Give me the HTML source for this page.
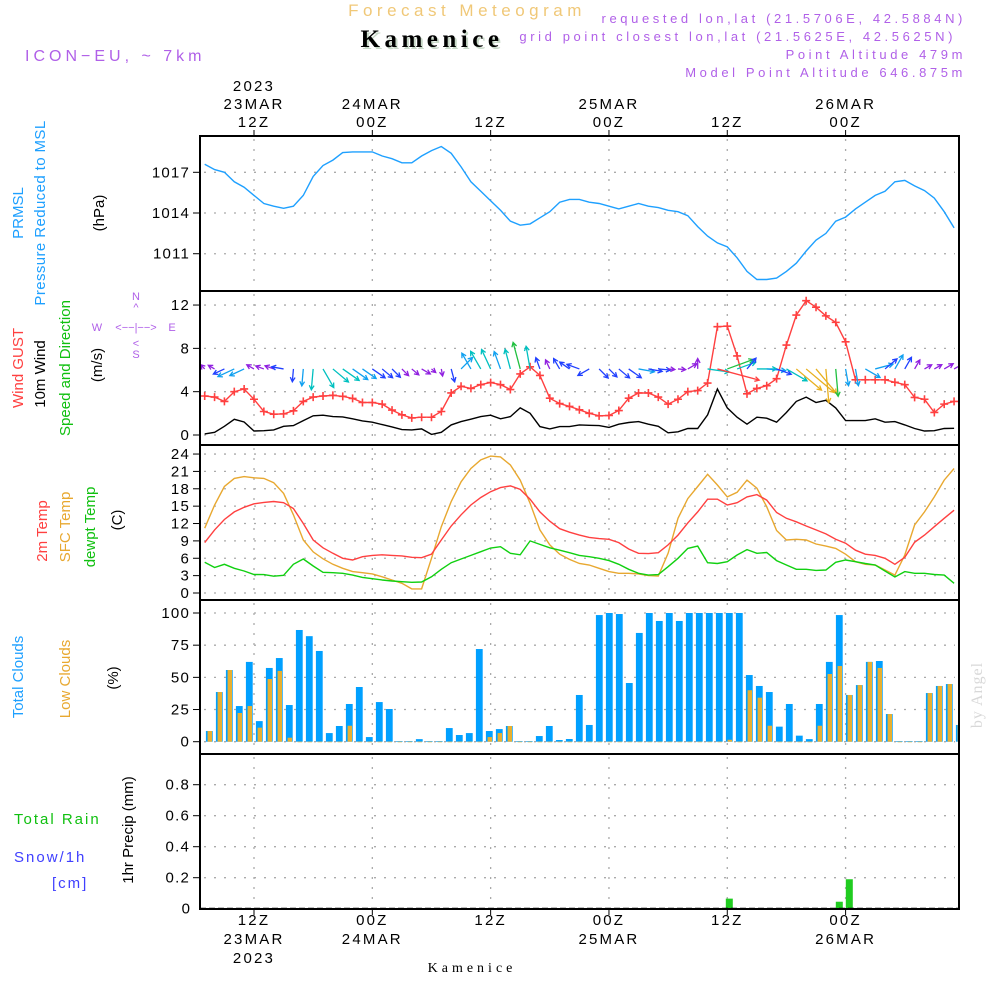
<!DOCTYPE html>
<html><head><meta charset="utf-8">
<style>
html,body{margin:0;padding:0;background:#fff;}
svg{display:block;font-family:"Liberation Sans",sans-serif;}
</style></head>
<body>
<svg id="chart" width="1000" height="1000" viewBox="0 0 1000 1000" xmlns="http://www.w3.org/2000/svg">
<rect width="1000" height="1000" fill="#fff"/>
<text x="467" y="16" text-anchor="middle" font-size="17" letter-spacing="4.5" fill="#f0c878">Forecast Meteogram</text>
<text x="434" y="49" text-anchor="middle" font-size="25" font-weight="bold" font-family="Liberation Serif,serif" letter-spacing="4.5" fill="#c8d8c8">Kamenice</text>
<text x="432" y="47" text-anchor="middle" font-size="25" font-weight="bold" font-family="Liberation Serif,serif" letter-spacing="4.5" fill="#000">Kamenice</text>
<text x="25" y="61" font-size="16" letter-spacing="4" fill="#b060e8">ICON−EU, ~ 7km</text>
<g font-size="13" letter-spacing="3.6" fill="#b060e8" text-anchor="end">
<text x="966" y="23">requested lon,lat (21.5706E, 42.5884N)</text>
<text x="956" y="41">grid point closest lon,lat (21.5625E, 42.5625N)</text>
<text x="966" y="59">Point Altitude 479m</text>
<text x="966" y="77">Model Point Altitude 646.875m</text>
</g>
<text transform="translate(982,695) rotate(-90)" text-anchor="middle" font-size="16" font-family="Liberation Serif,serif" letter-spacing="1" fill="#d8d8d8">by Angel</text>

<g font-size="15">
<text transform="translate(23,213) rotate(-90)" text-anchor="middle" fill="#1ea0ff">PRMSL</text>
<text transform="translate(45,213) rotate(-90)" text-anchor="middle" fill="#1ea0ff" letter-spacing="0.4">Pressure Reduced to MSL</text>
<text transform="translate(104,213) rotate(-90)" text-anchor="middle" fill="#000">(hPa)</text>
<text transform="translate(23,368) rotate(-90)" text-anchor="middle" fill="#ff4040">Wind GUST</text>
<text transform="translate(45,374) rotate(-90)" text-anchor="middle" fill="#000">10m Wind</text>
<text transform="translate(70,368) rotate(-90)" text-anchor="middle" fill="#10c010">Speed and Direction</text>
<text transform="translate(102,365) rotate(-90)" text-anchor="middle" fill="#000">(m/s)</text>
<text transform="translate(47,531) rotate(-90)" text-anchor="middle" fill="#ff4040">2m Temp</text>
<text transform="translate(70,527) rotate(-90)" text-anchor="middle" fill="#e8a830">SFC Temp</text>
<text transform="translate(95,527) rotate(-90)" text-anchor="middle" fill="#10c010">dewpt Temp</text>
<text transform="translate(122,520) rotate(-90)" text-anchor="middle" fill="#000">(C)</text>
<text transform="translate(23,677) rotate(-90)" text-anchor="middle" fill="#1ea0ff">Total Clouds</text>
<text transform="translate(70,679) rotate(-90)" text-anchor="middle" fill="#e8a830">Low Clouds</text>
<text transform="translate(118,678) rotate(-90)" text-anchor="middle" fill="#000">(%)</text>
<text transform="translate(133,830) rotate(-90)" text-anchor="middle" fill="#000">1hr Precip (mm)</text>
<text x="14" y="824" fill="#10c010" letter-spacing="2">Total  Rain</text>
<text x="14" y="862" fill="#4040ff" letter-spacing="2">Snow/1h</text>
<text x="52" y="888" fill="#4040ff" letter-spacing="2">[cm]</text>
</g>
<g font-size="11" fill="#b060e8" text-anchor="middle">
<text x="136" y="300">N</text><text x="136" y="311">^</text>
<text x="97" y="331">W</text><text x="136" y="331">&lt;−−|−−&gt;</text><text x="172" y="331">E</text>
<text x="136" y="347">&lt;</text><text x="136" y="358">S</text>
</g>
<g id="plot"></g>
</svg>
<script>
// ---------- data (hourly from 23MAR 07Z) ----------
const startHour = 7;
const timeTicks = [12, 24, 36, 48, 60, 72];
const topTickLabels = [["2023","23MAR","12Z"],["24MAR","00Z"],["12Z"],["25MAR","00Z"],["12Z"],["26MAR","00Z"]];
const bottomTickLabels = [["12Z","23MAR","2023"],["00Z","24MAR"],["12Z"],["00Z","25MAR"],["12Z"],["00Z","26MAR"]];
const pressure = [1017.6,1017.2,1017.0,1016.3,1015.9,1015.3,1014.7,1014.5,1014.35,1014.5,1015.3,1016.7,1017.5,1017.9,1018.45,1018.5,1018.5,1018.5,1018.2,1018.0,1017.7,1017.7,1018.2,1018.6,1018.9,1018.4,1017.4,1016.3,1015.6,1014.9,1014.2,1013.4,1013.1,1013.2,1013.65,1014.1,1014.8,1015.0,1015.0,1014.8,
1014.7,1014.5,1014.3,1014.5,1014.7,1014.5,1014.4,1014.2,1014.1,1013.8,1013.0,1012.3,1011.8,1011.5,1010.7,1009.7,1009.1,1009.1,1009.2,1009.7,1010.3,1011.2,1012.0,1012.5,1013.4,1013.7,1014.3,1014.8,1015.3,1015.6,1016.3,1016.4,1016.0,1015.65,1015.1,1014.1,1012.9];
const pressureTicks = [1011, 1014, 1017];
const wind10 = [0.1,0.25,0.8,1.45,1.2,0.37,0.4,0.47,0.8,0.87,1.33,1.77,1.83,1.7,1.67,1.5,1.3,1.18,0.96,0.75,0.5,0.47,0.56,0.06,0.25,0.93,1.24,1.46,1.7,1.83,1.5,1.7,2.5,2.0,0.78,0.56,0.78,0.78,0.93,0.9,
0.87,0.7,1.0,1.15,1.24,1.0,0.8,0.2,0.3,0.6,0.6,1.86,4.25,2.5,1.64,1.0,1.64,1.55,1.18,2.08,3.1,3.5,3.0,3.2,2.5,1.33,1.33,1.33,1.5,1.18,1.24,0.93,0.6,0.37,0.4,0.6,0.62];
const gust = [3.6,3.5,3.1,4.0,4.25,3.3,2.17,1.92,1.95,2.23,3.1,3.5,3.6,3.66,3.57,3.38,3.0,3.0,2.85,2.3,1.86,1.58,1.64,1.64,2.17,3.88,4.5,4.3,4.65,4.84,4.65,4.2,5.64,6.3,5.5,3.4,2.9,2.64,2.33,2.0,
1.77,1.8,2.26,3.4,3.88,3.88,3.5,2.85,3.3,4.0,4.1,4.8,10.0,10.05,7.3,3.8,4.3,4.55,5.2,8.3,11.07,12.4,11.8,11.0,10.4,8.6,5.1,5.1,5.1,5.1,4.87,4.65,3.47,3.3,2.08,2.85,3.1];
const windDir = [-135,-150,155,155,155,-150,-160,-160,-170,95,95,95,60,40,35,35,35,35,40,45,45,40,30,40,80,75,-45,-120,-120,-115,-110,-105,-105,-100,-110,-115,-120,-145,-160,150,
45,45,40,35,10,10,5,5,5,-30,-90,8,15,-20,-20,-50,0,5,20,30,40,40,50,85,85,80,80,30,-15,-40,-60,-60,-60,-30,-30,-30,-30];
const windTicks = [0, 4, 8, 12];
const temp2m = [8.7,10.9,12.7,14.0,14.8,15.4,15.65,15.8,15.6,14.6,12.0,9.15,7.8,6.85,6.0,5.7,6.27,6.5,6.6,6.5,6.4,6.16,6.1,6.7,9.15,11.57,13.5,15.2,16.5,17.5,18.2,18.5,17.9,16.2,14.0,12.4,11.1,10.5,10.0,9.6,
9.4,9.27,8.7,7.6,6.85,6.8,6.96,8.3,10.0,12.1,14.0,16.2,16.2,15.2,15.6,16.6,17.0,16.05,13.9,12.9,12.3,11.57,10.9,10.2,9.27,8.6,7.4,6.7,6.5,6.0,4.95,6.16,8.75,10.0,11.45,12.9,14.3];
const tempSfc = [11.2,15.2,18.4,19.8,20.1,19.9,19.8,19.05,17.2,13.5,9.15,7.1,5.9,4.95,4.26,3.7,3.5,3.3,2.8,2.25,1.67,0.7,0.7,6.0,11.45,15.8,19.2,21.5,23.0,23.65,23.5,22.1,19.5,15.5,10.9,8.3,6.7,5.8,5.1,4.83,
4.26,3.7,3.4,3.4,3.3,3.0,2.94,6.85,12.9,16.3,18.4,20.5,18.65,16.6,17.4,19.5,18.1,14.9,10.8,9.15,9.27,9.15,8.46,8.1,7.7,6.7,5.4,4.95,4.83,3.97,3.1,6.56,11.74,14.0,16.6,19.5,21.5];
const dewpt = [5.3,4.4,4.95,4.26,3.8,3.2,3.17,2.9,3.05,4.95,5.87,4.66,3.57,3.5,3.4,3.1,2.7,2.47,2.25,2.07,1.96,1.84,1.9,2.8,4.1,5.24,5.87,6.5,7.14,7.77,8.0,6.85,6.6,9.0,8.4,7.8,7.4,6.96,6.5,6.27,
6.0,5.6,4.95,4.1,3.4,3.1,3.17,4.55,6.0,7.7,8.1,5.24,5.1,5.4,6.56,7.5,6.85,7.0,5.6,4.83,4.1,4.1,3.9,3.97,5.3,5.7,5.4,5.1,4.83,3.8,2.76,3.7,3.4,3.4,3.2,3.1,1.67];
const tempTicks = [0,3,6,9,12,15,18,21,24];
const totalClouds = [8.3,38.6,55.7,27.7,62,16,57.3,65,28.5,86.8,82,70.5,6.7,12.2,29.3,42.5,3.6,30.8,25.4,0.5,0.5,2,0.5,0.5,10.6,5.2,6.7,72,8.3,9.8,12.2,0.5,0.5,4.4,12.2,1.3,2.1,36.3,13,
98.4,100,99.2,45.6,84.5,100,93.8,100,93.8,100,100,100,100,100,100,51.8,43.3,38.6,11.7,29.3,4.7,2,29.3,62,98.4,36.3,44,62,62.7,21.5,0.5,0.5,0.5,37.8,43.3,44.8,13];
const lowClouds = [8.3,38.6,55.7,22.3,27.7,10.9,48.7,55,3.1,0,0,0,0,0,12.4,0,0,0,0,0,0,0,0,0,0,0,0,0,3.6,6.7,12.2,0,0,0,0,0,0,0,0,
0,0,0,0,0,0,0,0,0,0,0,0,0,1.5,0,40,34.2,12.4,0,0,0,0,12.4,52.6,58.8,36.3,44,62,57.3,21.5,0,0,0,37.8,43.3,44.8,13];
const cloudTicks = [0,25,50,75,100];
const precipIndex = [52, 63, 64];
const precipValues = [0.065, 0.045, 0.19];
const precipTicks = [0, 0.2, 0.4, 0.6, 0.8];

// ---------- scales ----------
const X0 = 200, X1 = 959;
function xT(t){ return 254 + 9.86*(t-12); }
function xBar(i){ return 209.3 + 10*i; }
const panels = [
  {name:'pressure', top:136, bot:291, y:v=>172.3+(1017-v)*13.57},
  {name:'wind', top:291, bot:445, y:v=>435-v*10.83},
  {name:'temperature', top:445, bot:600, y:v=>593-v*5.79},
  {name:'clouds', top:600, bot:754, y:v=>741.7-v*1.287},
  {name:'precip', top:754, bot:909, y:v=>908.7-v*155}
];
const NS = 'http://www.w3.org/2000/svg';
const plot = document.getElementById('plot');
function mk(tag, attrs, parent){
  const e = document.createElementNS(NS, tag);
  for (const k in attrs) e.setAttribute(k, attrs[k]);
  (parent||plot).appendChild(e);
  return e;
}
const defs = mk('defs', {});
panels.forEach((p,i)=>{
  const cp = mk('clipPath', {id:'clip'+i}, defs);
  mk('rect', {x:X0, y:p.top, width:X1-X0, height:p.bot-p.top}, cp);
});

function gridAndTicks(p, ticks, fmt, name){
  const g = mk('g', {});
  
  
  ticks.forEach(v=>{
    const y = p.y(v);
    mk('line', {x1:X0+4, x2:X1-4, y1:y, y2:y, stroke:'#aaa', 'stroke-width':1.3, 'stroke-dasharray':'2 8'}, g);
    mk('line', {x1:X0-7, x2:X0, y1:y, y2:y, stroke:'#000', 'stroke-width':1}, g);
    const t = mk('text', {x:X0-10, y:y+5, 'text-anchor':'end', 'font-size':15, 'letter-spacing':1.2, fill:'#000'}, g);
    t.textContent = fmt(v);
  });
  timeTicks.forEach(tt=>{
    const x = xT(tt);
    mk('line', {x1:x, x2:x, y1:p.top+3, y2:p.bot-2, stroke:'#aaa', 'stroke-width':1.3, 'stroke-dasharray':'2 8'}, g);
  });
}
gridAndTicks(panels[0], pressureTicks, v=>String(v), 'pressure');
gridAndTicks(panels[1], windTicks, v=>String(v), 'wind');
gridAndTicks(panels[2], tempTicks, v=>String(v), 'temperature');
gridAndTicks(panels[3], cloudTicks, v=>String(v), 'clouds');
gridAndTicks(panels[4], precipTicks.slice(1), v=>v.toFixed(1), 'precip');
{ const t = mk('text', {x:X0-10, y:panels[4].y(0)+5, 'text-anchor':'end', 'font-size':15, fill:'#000'}); t.textContent='0'; }

function line(arr, p, idx, color, name){
  const pts = arr.map((v,i)=>xT(startHour+i).toFixed(1)+','+p.y(v).toFixed(1)).join(' ');
  const e = mk('polyline', {points:pts, fill:'none', stroke:color, 'stroke-width':1.4, 'clip-path':'url(#clip'+idx+')'});
  
  
  return e;
}
line(pressure, panels[0], 0, '#1ea0ff', 'pressure-line');
line(wind10, panels[1], 1, '#000', 'wind-10m-line');
line(gust, panels[1], 1, '#ff4040', 'wind-gust-line');
gust.forEach((v,i)=>{
  const x = xT(startHour+i), y = panels[1].y(v);
  const m = mk('path', {d:`M${x-4},${y}H${x+4}M${x},${y-4}V${y+4}`, stroke:'#ff4040', 'stroke-width':1.6});
  
  
});
function arrowColor(s){
  if (s < 0.7) return '#9020e0';
  if (s < 1.2) return '#2040ff';
  if (s < 1.6) return '#10a0f0';
  if (s < 2.2) return '#00c0c0';
  if (s < 2.8) return '#20c040';
  if (s < 3.8) return '#e8b020';
  return '#ff4040';
}
windDir.forEach((d,i)=>{
  const s = wind10[i];
  const x0 = xT(startHour+i), y0 = panels[1].y(6.1);
  const L = 5 + s*9;
  const a = d*Math.PI/180;
  const x1 = x0 + L*Math.cos(a), y1 = y0 + L*Math.sin(a);
  const h1 = a + Math.PI - 0.5, h2 = a + Math.PI + 0.5;
  const e = mk('path', {d:`M${x0},${y0}L${x1},${y1}M${x1+5*Math.cos(h1)},${y1+5*Math.sin(h1)}L${x1},${y1}L${x1+5*Math.cos(h2)},${y1+5*Math.sin(h2)}`,
    stroke:arrowColor(s), 'stroke-width':1.3, fill:'none', 'clip-path':'url(#clip1)'});
  
  
});
line(tempSfc, panels[2], 2, '#e8a830', 'sfc-temp-line');
line(temp2m, panels[2], 2, '#ff4040', '2m-temp-line');
line(dewpt, panels[2], 2, '#10d010', 'dewpoint-line');
totalClouds.forEach((v,i)=>{
  const xc = xBar(i), y = panels[3].y(v), y0 = panels[3].y(0);
  const b = mk('rect', {x:xc-3.4, y:y, width:6.8, height:Math.max(0.6,y0-y), fill:'#00a0ff', 'clip-path':'url(#clip3)'});
  
  
});
lowClouds.forEach((v,i)=>{
  const xc = xBar(i) + 0.5, y = panels[3].y(v), y0 = panels[3].y(0);
  const b = mk('rect', {x:xc-2.2, y:y, width:4.4, height:Math.max(0.6,y0-y), fill:'#e8b030', 'clip-path':'url(#clip3)'});
  
  
});
precipValues.forEach((v,i)=>{
  const xc = xBar(precipIndex[i]), y = panels[4].y(v), y0 = panels[4].y(0);
  const b = mk('rect', {x:xc-3.5, y:y, width:7, height:y0-y, fill:'#20cc20'});
  
  
});
mk('line', {x1:X0, x2:X1, y1:908.7, y2:908.7, stroke:'#000', 'stroke-width':2, 'stroke-dasharray':'6 3'});

panels.forEach((p,i)=>{
  const r = mk('rect', {x:X0, y:p.top, width:X1-X0, height:p.bot-p.top, fill:'none', stroke:'#000', 'stroke-width':2});
  
  
});
timeTicks.forEach((tt,i)=>{
  const x = xT(tt);
  mk('line', {x1:x, x2:x, y1:130, y2:136, stroke:'#000'});
  mk('line', {x1:x, x2:x, y1:909, y2:915, stroke:'#000'});
  const top = topTickLabels[i];
  top.forEach((s,j)=>{
    const t = mk('text', {x:x, y:127-18*(top.length-1-j), 'text-anchor':'middle', 'font-size':15, 'letter-spacing':2.2, fill:'#000'});
    
    
    t.textContent = s;
  });
  bottomTickLabels[i].forEach((s,j)=>{
    const t = mk('text', {x:x, y:925+19*j, 'text-anchor':'middle', 'font-size':15, 'letter-spacing':2.2, fill:'#000'});
    
    
    t.textContent = s;
  });
});
{ const t = mk('text', {x:472, y:972, 'text-anchor':'middle', 'font-size':14, 'letter-spacing':4, 'font-family':'Liberation Serif,serif', fill:'#000'});
  
  
  t.textContent = 'Kamenice'; }
</script>
</body></html>
